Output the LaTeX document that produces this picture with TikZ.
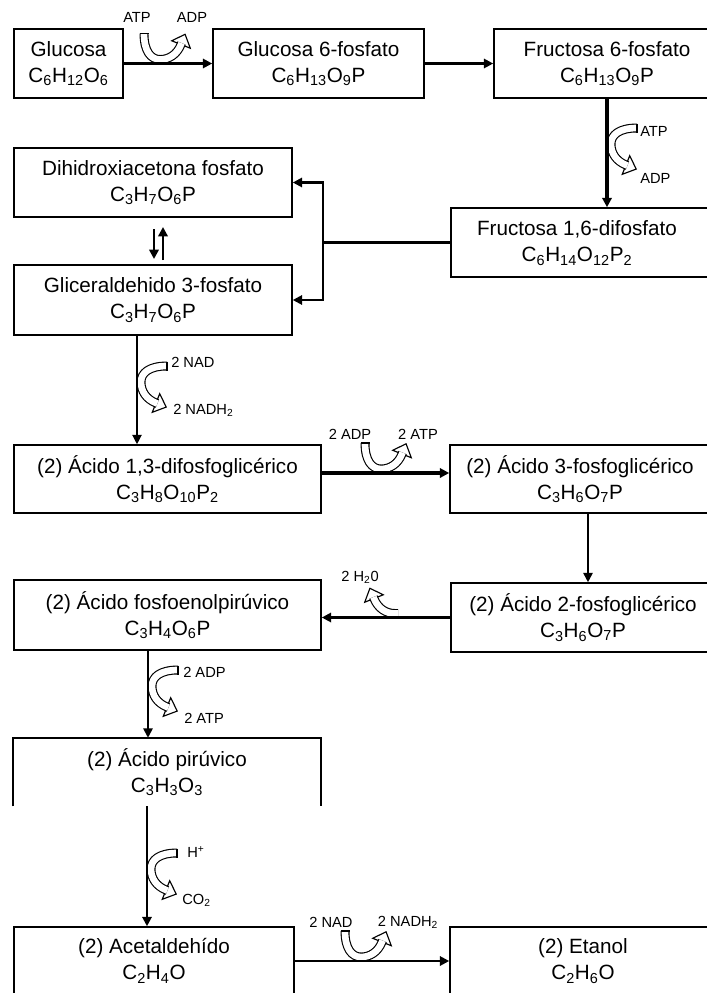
\documentclass[tikz,border=0pt]{standalone}
\usepackage{fontspec}
\setmainfont{Liberation Sans}
\usetikzlibrary{arrows.meta}
\newcommand\boxfont{\fontsize{15.5}{19.5}\selectfont}
\newcommand\labfont{\fontsize{11}{13}\selectfont}
\newcommand\sbs[1]{\textsubscript{#1}}
\tikzset{
  box/.style={draw, line width=1.2pt, inner sep=0pt, align=center, font=\boxfont},
  txt/.style={inner sep=0pt, align=center, font=\boxfont},
  lab/.style={inner sep=0pt, font=\labfont},
  arr/.style={-{Triangle[length=7pt,width=7pt]}, line width=1.6pt},
  band/.style={line width=0.85pt, double=white, double distance=5pt},
  bent/.pic={
    \begin{scope}[shift={(21,19)}, rotate=68.2]
      \draw[line width=0.85pt, fill=white] (0,-10) -- (11,0) -- (0,10) -- cycle;
    \end{scope}
    \draw[band] (-16,30) .. controls (-16,12) and (-9,4) .. (0,4)
      .. controls (9,4) and (17,9) .. (21,19) -- ++(68.2:1.5);
    \draw[line width=0.85pt] (-20.5,30) -- (-11.5,30);
  },
  bentout/.pic={
    \begin{scope}[shift={(21,19)}, rotate=68.2]
      \draw[line width=0.85pt, fill=white] (0,-10) -- (11,0) -- (0,10) -- cycle;
    \end{scope}
    \draw[band] (-3,4) -- (0,4)
      .. controls (9,4) and (17,9) .. (21,19) -- ++(68.2:1.5);
  }
}
\begin{document}
\begin{tikzpicture}[x=0.75pt,y=0.75pt]
\useasboundingbox (0,0) rectangle (707,-993);
\clip (0,0) rectangle (707,-993);

% boxes
\node[box, minimum width=109*0.75pt, minimum height=69*0.75pt] (glc) at (68.5,-63.5)
  {Glucosa\\C\sbs{6}H\sbs{12}O\sbs{6}};
\node[box, minimum width=211*0.75pt, minimum height=69*0.75pt] (g6p) at (318.5,-63.5)
  {Glucosa 6-fosfato\\C\sbs{6}H\sbs{13}O\sbs{9}P};
\node[box, minimum width=226*0.75pt, minimum height=69*0.75pt] (f6p) at (607,-63.5)
  {Fructosa 6-fosfato\\C\sbs{6}H\sbs{13}O\sbs{9}P};
\node[box, minimum width=280*0.75pt, minimum height=69*0.75pt] (f16) at (591,-242.5) {};
\node[txt] (f16t) at (577,-243) {Fructosa 1,6-difosfato\\C\sbs{6}H\sbs{14}O\sbs{12}P\sbs{2}};
\node[box, minimum width=278*0.75pt, minimum height=69*0.75pt] (dhap) at (153,-182.5)
  {Dihidroxiacetona fosfato\\C\sbs{3}H\sbs{7}O\sbs{6}P};
\node[box, minimum width=278*0.75pt, minimum height=70*0.75pt] (g3p) at (153,-300)
  {Gliceraldehido 3-fosfato\\C\sbs{3}H\sbs{7}O\sbs{6}P};
\node[box, minimum width=307*0.75pt, minimum height=68*0.75pt] (bpg) at (167.5,-479)
  {(2) Ácido 1,3-difosfoglicérico\\C\sbs{3}H\sbs{8}O\sbs{10}P\sbs{2}};
\node[box, minimum width=260*0.75pt, minimum height=68*0.75pt] (pg3) at (580,-479)
  {(2) Ácido 3-fosfoglicérico\\C\sbs{3}H\sbs{6}O\sbs{7}P};
\node[box, minimum width=264*0.75pt, minimum height=69*0.75pt] (pg2) at (583,-617.5)
  {(2) Ácido 2-fosfoglicérico\\C\sbs{3}H\sbs{6}O\sbs{7}P};
\node[box, minimum width=307*0.75pt, minimum height=70*0.75pt] (pep) at (167.5,-615)
  {(2) Ácido fosfoenolpirúvico\\C\sbs{3}H\sbs{4}O\sbs{6}P};
\node[txt, minimum width=308*0.75pt, minimum height=68*0.75pt] (pyr) at (167,-772)
  {(2) Ácido pirúvico\\C\sbs{3}H\sbs{3}O\sbs{3}};
\draw[line width=1.2pt] (pyr.south west) -- (pyr.north west) -- (pyr.north east) -- (pyr.south east);
\node[box, minimum width=280*0.75pt, minimum height=68*0.75pt] (acet) at (154,-961)
  {(2) Acetaldehído\\C\sbs{2}H\sbs{4}O};
\node[box, minimum width=266*0.75pt, minimum height=68*0.75pt] (eth) at (583,-961)
  {(2) Etanol\\C\sbs{2}H\sbs{6}O};

% helper coordinates
\coordinate (br) at (323,-242.5);
\coordinate (x137) at (137,0);
\coordinate (x588) at (588,0);
\coordinate (x148) at (148,0);
\coordinate (x147) at (147,0);
\coordinate (y473) at (0,-473);
\coordinate (e1) at (154,-229);
\coordinate (e2) at (154,-259);
\coordinate (e3) at (163,-260);
\coordinate (e4) at (163,-227);

% bent cofactor arrows
\pic at (160,-63.5) {bent};
\pic[rotate=-90] at (607,-144) {bent};
\pic[rotate=-90] at (137,-382) {bent};
\pic at (381,-473) {bent};
\pic[xscale=-1] at (395,-617.5) {bentout};
\pic[rotate=-90] at (148,-686) {bent};
\pic[rotate=-90] at (147,-869) {bent};
\pic at (361,-961) {bent};

% connectors
\draw[arr] (glc) -- (g6p);
\draw[arr] (g6p) -- (f6p);
\draw[arr, line width=2.3pt] (f6p.south) -- (f6p.south |- f16.north);
\draw[line width=1.6pt] (f16.west) -- (br);
\draw[arr] (br) |- (dhap.east);
\draw[arr] (br) |- (g3p.east);
\draw[arr, line width=2pt] (e1) -- (e2);
\draw[arr, line width=2pt] (e3) -- (e4);
\draw[arr, line width=0.9pt] (g3p.south -| x137) -- (bpg.north -| x137);
\draw[arr, line width=2.3pt] (bpg.east |- y473) -- (pg3.west |- y473);
\draw[arr, line width=1.3pt] (pg3.south -| x588) -- (pg2.north -| x588);
\draw[arr] (pg2.west) -- (pg2.west -| pep.east);
\draw[arr, line width=1.3pt] (pep.south -| x148) -- (pyr.north -| x148);
\draw[arr] (pyr.south -| x147) -- (acet.north -| x147);
\draw[arr] (acet) -- (eth);

% labels
\node[lab] (l1a) at (137,-17) {ATP};
\node[lab] (l1b) at (192,-17) {ADP};
\node[lab, anchor=west] (l2a) at (640,-131) {ATP};
\node[lab, anchor=west] (l2b) at (640,-178) {ADP};
\node[lab, anchor=west] (l3a) at (171,-362) {2 NAD};
\node[lab, anchor=west] (l3b) at (173,-410) {2 NADH\sbs{2}};
\node[lab] (l4a) at (350,-434) {2 ADP};
\node[lab] (l4b) at (418,-434) {2 ATP};
\node[lab] (l5) at (360,-577) {2 H\sbs{2}0};
\node[lab, anchor=west] (l6a) at (183,-672) {2 ADP};
\node[lab, anchor=west] (l6b) at (184,-718) {2 ATP};
\node[lab, anchor=west] (l7a) at (187,-852) {H\textsuperscript{+}};
\node[lab, anchor=west] (l7b) at (182,-900) {CO\sbs{2}};
\node[lab] (l8a) at (331,-922) {2 NAD};
\node[lab] (l8b) at (408,-922) {2 NADH\sbs{2}};
\end{tikzpicture}
\end{document}
